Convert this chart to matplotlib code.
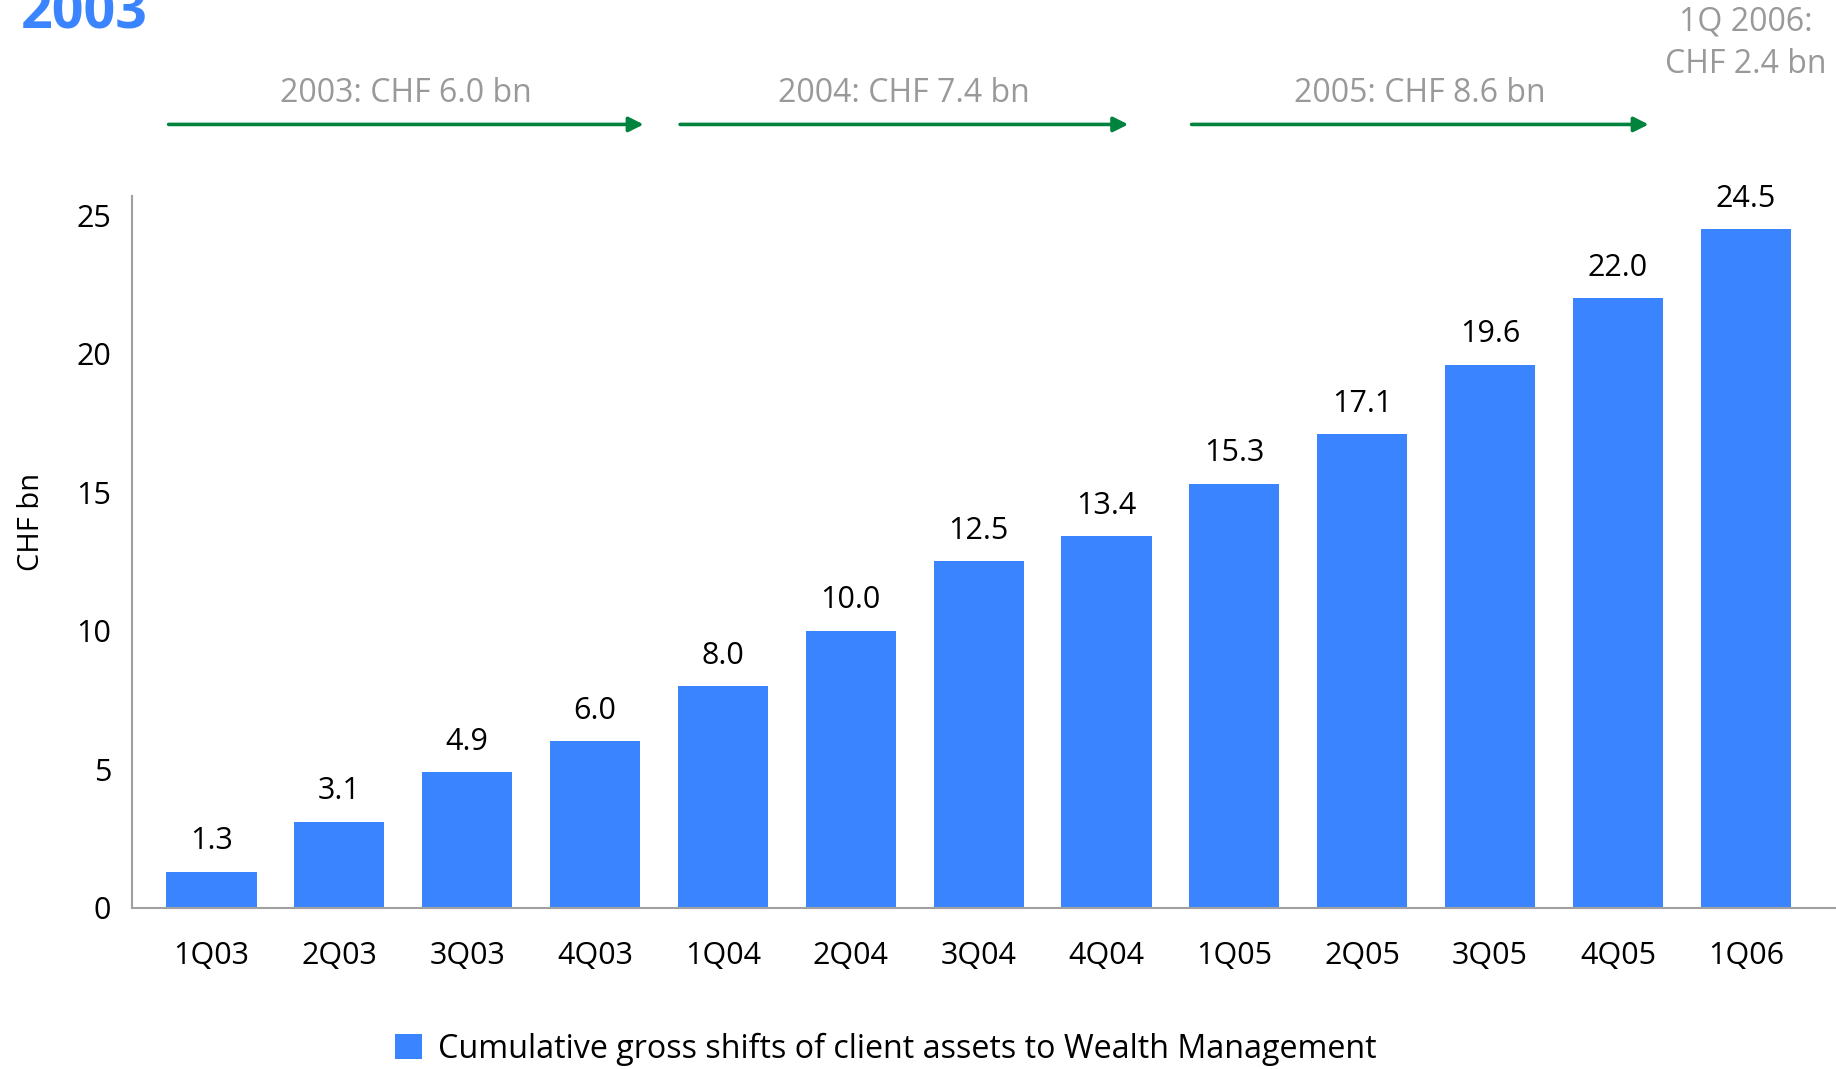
import matplotlib.pyplot as plt
import numpy as np

# data
quarters = ['1Q03', '2Q03', '3Q03', '4Q03', '1Q04', '2Q04', '3Q04', '4Q04',
            '1Q05', '2Q05', '3Q05', '4Q05', '1Q06']
values = [1.3, 3.1, 4.9, 6.0, 8.0, 10.0, 12.5, 13.4, 15.3, 17.1, 19.6, 22.0, 24.5]
period_labels = ['2003: CHF 6.0 bn', '2004: CHF 7.4 bn', '2005: CHF 8.6 bn']
period_spans = [(0, 3), (4, 7), (8, 11)]
last_label = '1Q 2006:\nCHF 2.4 bn'
legend_label = 'Cumulative gross shifts of client assets to Wealth Management'

BLUE = '#3a85ff'
GREEN = '#00843d'
GREY_TXT = '#999999'
SPINE = '#a0a0a0'


def main():
    plt.rcParams['font.family'] = ['Open Sans', 'DejaVu Sans']
    fig = plt.figure(figsize=(18.36, 10.69), dpi=100)
    ax = fig.add_axes([0.072, 0.151, 0.928, 0.666])

    x = np.arange(len(values))
    bars = ax.bar(x, values, width=0.705, color=BLUE, label=legend_label, zorder=2)
    for xi, v in zip(x, values):
        ax.annotate('{:.1f}'.format(v), (xi, v), xytext=(0, 11), textcoords='offset points',
                    ha='center', va='bottom', fontsize=22, color='black')

    ax.set_xlim(-0.62, 12.705)
    ax.set_ylim(0, 25.7)
    ax.set_yticks([0, 5, 10, 15, 20, 25])
    ax.set_xticks(x)
    ax.set_xticklabels(quarters)
    ax.tick_params(axis='both', length=0, labelsize=22)
    ax.tick_params(axis='x', pad=24)
    ax.tick_params(axis='y', pad=15)
    for s in ['top', 'right']:
        ax.spines[s].set_visible(False)
    for s in ['left', 'bottom']:
        ax.spines[s].set_color(SPINE)
        ax.spines[s].set_linewidth(1.5)

    fig.text(0.017, 0.512, 'CHF bn', rotation=90, ha='center', va='center', fontsize=21)

    # period arrows above the bars
    tr = ax.get_xaxis_transform()
    ends = [0.38, 0.17, 0.24]
    for (a, b), lab, e in zip(period_spans, period_labels, ends):
        x0 = a - 0.335
        x1 = b + e
        ax.annotate('', xy=(x1, 1.100), xytext=(x0, 1.100), xycoords=tr, textcoords=tr,
                    arrowprops=dict(arrowstyle='-|>', color=GREEN, lw=2.6,
                                    mutation_scale=22, shrinkA=0, shrinkB=0),
                    annotation_clip=False)
        ax.text((x0 + x1) / 2, 1.143, lab, transform=tr, ha='center', va='center',
                fontsize=23, color=GREY_TXT, clip_on=False)
    ax.text(x[-1], 1.214, last_label, transform=tr, ha='center', va='center',
            fontsize=23, color=GREY_TXT, linespacing=1.4, clip_on=False)

    fig.text(0.0114, 0.973, '2003', ha='left', va='baseline', fontsize=40,
             fontweight='bold', color=BLUE)

    fig.legend(handles=[bars], labels=[legend_label], loc='center',
               bbox_to_anchor=(0.4826, 0.0187), frameon=False, fontsize=23.2,
               handlelength=0.85, handleheight=0.8, handletextpad=0.5,
               borderaxespad=0, borderpad=0)

    fig.savefig('out.png', dpi=100)


if __name__ == '__main__':
    main()
